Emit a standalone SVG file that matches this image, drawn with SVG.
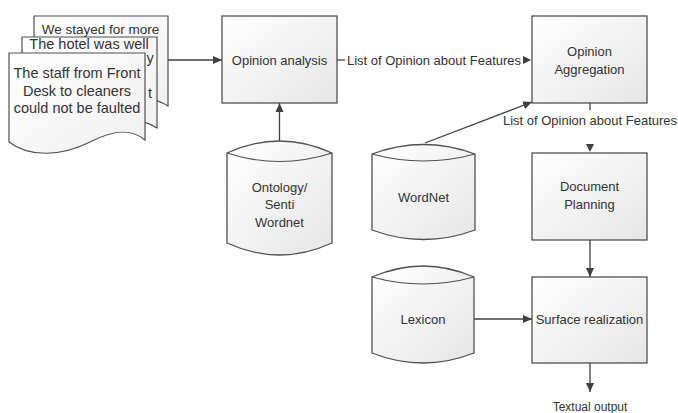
<svg xmlns="http://www.w3.org/2000/svg" width="678" height="413" viewBox="0 0 678 413">
<style>
.box{stroke:#505050;stroke-width:1.3;fill:url(#g)}
.cyl{stroke:#505050;stroke-width:1.3;fill:url(#g)}
.lens{stroke:#505050;stroke-width:1.2;fill:none}
.doc{stroke:#505050;stroke-width:1.2;fill:url(#gd)}
.ln{stroke:#404040;stroke-width:1.3;fill:none}
.t{font-family:"Liberation Sans",Arial,sans-serif;font-size:13px;fill:#333;text-anchor:middle}
.td{font-family:"Liberation Sans",Arial,sans-serif;font-size:14.5px;fill:#333;text-anchor:middle}
</style>
<defs>
<linearGradient id="g" x1="0" y1="0" x2="1" y2="1">
<stop offset="0" stop-color="#ffffff"/><stop offset="1" stop-color="#e6e6e6"/>
</linearGradient>
<linearGradient id="gd" x1="0" y1="0" x2="1" y2="1">
<stop offset="0" stop-color="#ffffff"/><stop offset="1" stop-color="#f0f0f0"/>
</linearGradient>
<marker id="a" markerUnits="userSpaceOnUse" markerWidth="10" markerHeight="10" refX="9" refY="5" orient="auto">
<path d="M0,1 L9,5 L0,9 Z" fill="#404040"/>
</marker>
</defs>
<rect width="678" height="413" fill="#fff"/>
<g id="docs">
<path class="doc" d="M34,16 H168 V106 C153,96 133,96 109,110 C84,124 54,122 34,106 Z"/>
<text class="td" x="100.5" y="34" style="font-size:13.5px">We stayed for more</text>
<path class="doc" d="M22,37 H157 V128 C142,118 122,118 97,132 C72,146 42,144 22,128 Z"/>
<text class="td" x="89" y="49">The hotel was well</text>
<text class="td" x="150" y="63">y</text>
<text class="td" x="150" y="98">t</text>
<path class="doc" d="M9,53 H145 V140 C132,129 115,129 90,142 C62,156 30,158 9,142 Z"/>
<text class="td" x="77" y="78">The staff from Front</text>
<text class="td" x="77" y="96">Desk to cleaners</text>
<text class="td" x="77" y="113">could not be faulted</text>
</g>
<g id="opinion-analysis">
<rect class="box" x="222" y="16" width="115" height="87"/>
<text class="t" x="279.5" y="64.5">Opinion analysis</text>
</g>
<g id="opinion-aggregation">
<rect class="box" x="532" y="16" width="115" height="87"/>
<text class="t" x="589.5" y="56">Opinion</text>
<text class="t" x="589.5" y="73.5">Aggregation</text>
</g>
<g id="document-planning">
<rect class="box" x="532" y="153" width="115" height="87"/>
<text class="t" x="589.5" y="191">Document</text>
<text class="t" x="589.5" y="209">Planning</text>
</g>
<g id="surface-realization">
<rect class="box" x="532" y="277" width="115" height="86"/>
<text class="t" x="589.5" y="323.5">Surface realization</text>
</g>
<g id="ontology">
<path class="cyl" d="M227,153 Q279.5,129 332,153 V243 Q279.5,267 227,243 Z"/>
<path class="lens" d="M227,153 Q279.5,170 332,153"/>
<text class="t" x="279.5" y="191.5">Ontology/</text>
<text class="t" x="279.5" y="209">Senti</text>
<text class="t" x="279.5" y="226.5">Wordnet</text>
</g>
<g id="wordnet">
<path class="cyl" d="M372,154 Q423.5,135 475,154 V230 Q423.5,249 372,230 Z"/>
<path class="lens" d="M372,154 Q423.5,168 475,154"/>
<text class="t" x="423.5" y="201.5">WordNet</text>
</g>
<g id="lexicon">
<path class="cyl" d="M372,277 Q423,255 474,277 V353 Q423,373 372,353 Z"/>
<path class="lens" d="M372,277 Q423,291 474,277"/>
<text class="t" x="423" y="323.5">Lexicon</text>
</g>
<g id="connectors">
<line class="ln" x1="168" y1="60" x2="222" y2="60" marker-end="url(#a)"/>
<line class="ln" x1="279.5" y1="141" x2="279.5" y2="103" marker-end="url(#a)"/>
<line class="ln" x1="337" y1="60" x2="345" y2="60"/>
<text class="t" x="434" y="64.5">List of Opinion about Features</text>
<path d="M523,56 L531,60 L523,64 Z" fill="#404040"/>
<line class="ln" x1="425" y1="143" x2="532" y2="102" marker-end="url(#a)"/>
<line class="ln" x1="590" y1="103" x2="590" y2="110"/>
<text class="t" x="590" y="124.5">List of Opinion about Features</text>
<path d="M586,144 L590,152 L594,144 Z" fill="#404040"/>
<line class="ln" x1="590" y1="240" x2="590" y2="277" marker-end="url(#a)"/>
<line class="ln" x1="474" y1="319" x2="532" y2="319" marker-end="url(#a)"/>
<line class="ln" x1="590" y1="363" x2="590" y2="392" marker-end="url(#a)"/>
<text class="t" x="590" y="411" style="font-size:12px">Textual output</text>
</g>
</svg>
